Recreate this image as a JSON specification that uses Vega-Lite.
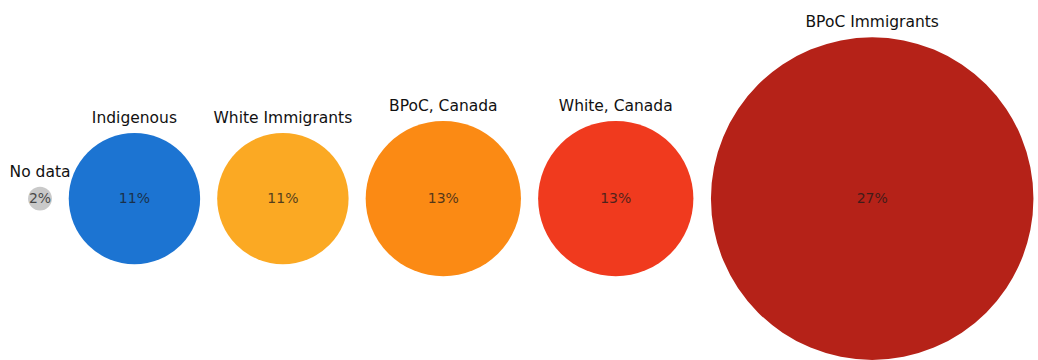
{
  "$schema": "https://vega.github.io/schema/vega-lite/v6.json",
  "width": 1038,
  "height": 360,
  "padding": 0,
  "autosize": {"type": "none"},
  "background": "white",
  "config": {"view": {"stroke": null}},
  "data": {
    "values": [
      {"group": "No data", "value": 2, "pct": "2%"},
      {"group": "Indigenous", "value": 11, "pct": "11%"},
      {"group": "White Immigrants", "value": 11, "pct": "11%"},
      {"group": "BPoC, Canada", "value": 13, "pct": "13%"},
      {"group": "White, Canada", "value": 13, "pct": "13%"},
      {"group": "BPoC Immigrants", "value": 27, "pct": "27%"}
    ]
  },
  "transform": [
    {"window": [{"op": "sum", "field": "value", "as": "cum"}, {"op": "row_number", "as": "rn"}]},
    {"calculate": "datum.cum - datum.value / 2 + 1.37 * (datum.rn - 1)", "as": "center"}
  ],
  "layer": [
    {
      "mark": {"type": "circle", "opacity": 1},
      "encoding": {
        "x": {"field": "center", "type": "quantitative", "scale": {"domain": [-2.333, 84.167], "zero": false, "nice": false}, "axis": null},
        "y": {"datum": 0, "type": "quantitative", "scale": {"domain": [-26.9, 33.1], "zero": false, "nice": false}, "axis": null},
        "size": {"field": "value", "type": "quantitative", "scale": {"type": "pow", "exponent": 2, "domain": [0, 27], "range": [0, 104000]}, "legend": null},
        "color": {"field": "group", "type": "nominal", "legend": null, "scale": {
          "domain": ["No data", "Indigenous", "White Immigrants", "BPoC, Canada", "White, Canada", "BPoC Immigrants"],
          "range": ["#c9c9c9", "#1c74d2", "#fba923", "#fb8a14", "#f03a1e", "#b52218"]}}
      }
    },
    {
      "mark": {"type": "text", "font": "DejaVu Sans", "fontSize": 14, "baseline": "middle", "align": "center", "color": "#1a1a1a", "opacity": 0.75},
      "encoding": {
        "x": {"field": "center", "type": "quantitative"},
        "y": {"datum": 0, "type": "quantitative"},
        "text": {"field": "pct"}
      }
    },
    {
      "mark": {"type": "text", "font": "DejaVu Sans", "fontSize": 15.5, "baseline": "alphabetic", "align": "center", "color": "#111111", "dy": -10},
      "encoding": {
        "x": {"field": "center", "type": "quantitative"},
        "y": {"field": "value", "type": "quantitative"},
        "text": {"field": "group"}
      }
    }
  ]
}
